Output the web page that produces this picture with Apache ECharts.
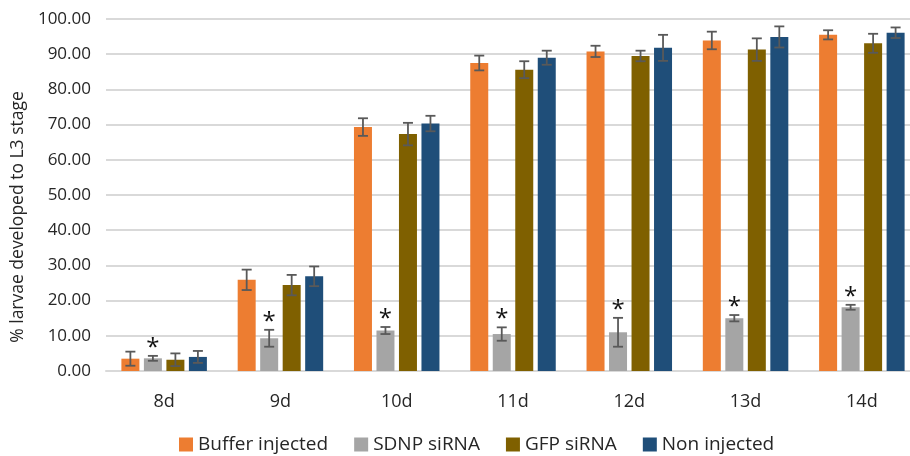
<!DOCTYPE html>
<html><head><meta charset="utf-8">
<script src="https://cdn.jsdelivr.net/npm/echarts@6/dist/echarts.min.js"></script>
<style>html,body{margin:0;padding:0;background:#fff}#c{width:910px;height:456px}</style>
</head><body><div id="c"></div>
<script>
const categories = ['8d','9d','10d','11d','12d','13d','14d'];
const seriesNames = ['Buffer injected','SDNP siRNA','GFP siRNA','Non injected'];
const bufferVals = [3.5, 25.9, 69.3, 87.5, 90.8, 93.9, 95.5];
const bufferErr  = [2.0, 2.9, 2.5, 2.1, 1.6, 2.5, 1.3];
const sdnpVals   = [3.6, 9.3, 11.5, 10.5, 11.0, 15.0, 18.1];
const sdnpErr    = [0.7, 2.4, 1.0, 1.9, 4.1, 0.9, 0.7];
const gfpVals    = [3.2, 24.4, 67.3, 85.6, 89.5, 91.3, 93.1];
const gfpErr     = [1.8, 2.9, 3.2, 2.4, 1.5, 3.2, 2.7];
const nonVals    = [4.0, 26.9, 70.3, 89.0, 91.8, 94.9, 96.1];
const nonErr     = [1.7, 2.8, 2.2, 2.0, 3.7, 3.0, 1.5];
const sdnpSignif = [true, true, true, true, true, true, true];
const yTicks = [0,10,20,30,40,50,60,70,80,90,100];

const colors = ['#ED7D31','#A5A5A5','#7F6000','#1F4E79'];
const vals = [bufferVals, sdnpVals, gfpVals, nonVals];
const errs = [bufferErr, sdnpErr, gfpErr, nonErr];
const marks = [null, sdnpSignif, null, null];
const BAR_W = 18, STEP = 22.5;

const chart = echarts.init(document.getElementById('c'), null, {renderer:'canvas'});
const series = [];
vals.forEach((v, i) => {
  series.push({
    name: seriesNames[i], type: 'bar', data: v, barWidth: BAR_W, barGap: '25%',
    itemStyle: {color: colors[i]}, z: 2
  });
});
vals.forEach((v, i) => {
  series.push({
    type: 'custom', z: 5, silent: true,
    data: v.map((val, k) => [k, val, errs[i][k], marks[i] && marks[i][k] ? 1 : 0]),
    encode: {x: 0, y: 1},
    renderItem: function (params, api) {
      const k = api.value(0), val = api.value(1), e = api.value(2), m = api.value(3);
      const c = api.coord([k, val]);
      const x = c[0] + (i - 1.5) * STEP;
      const top = api.coord([k, val + e])[1];
      const bot = api.coord([k, val - e])[1];
      const cap = 5;
      const st = {stroke: '#595959', lineWidth: 1.8};
      const children = [
        {type: 'line', shape: {x1: x, y1: top, x2: x, y2: bot}, style: st},
        {type: 'line', shape: {x1: x - cap, y1: top, x2: x + cap, y2: top}, style: st},
        {type: 'line', shape: {x1: x - cap, y1: bot, x2: x + cap, y2: bot}, style: st}
      ];
      if (m) {
        children.push({type: 'text', x: x, y: top - 8, style: {
          text: '*', fill: '#111', font: '24px "Open Sans", sans-serif',
          align: 'center', verticalAlign: 'middle'}});
      }
      return {type: 'group', children: children};
    }
  });
});

chart.setOption({
  animation: false,
  textStyle: {fontFamily: '"Open Sans", sans-serif'},
  grid: {left: 106, right: -10, top: 19, bottom: 85, outerBoundsMode: 'none'},
  legend: {
    data: seriesNames, top: 430, left: 174, icon: 'rect',
    itemWidth: 14, itemHeight: 14, itemGap: 26,
    textStyle: {fontSize: 19, color: '#262626', fontFamily: '"Open Sans", sans-serif'}
  },
  xAxis: {
    type: 'category', data: categories,
    axisLine: {lineStyle: {color: '#d9d9d9', width: 2}},
    axisTick: {show: false},
    axisLabel: {fontSize: 18, color: '#262626', margin: 22}
  },
  yAxis: {
    type: 'value', min: yTicks[0], max: yTicks[yTicks.length - 1], interval: 10,
    name: '% larvae developed to L3 stage', nameLocation: 'middle', nameGap: 76,
    nameTextStyle: {fontSize: 17.5, color: '#262626', padding: [0, 44, 0, 0]},
    axisLabel: {fontSize: 17, color: '#262626', margin: 15, formatter: v => v.toFixed(2)},
    splitLine: {lineStyle: {color: '#d9d9d9', width: 2}},
    axisLine: {show: false}, axisTick: {show: false}
  },
  series: series
});
</script></body></html>
